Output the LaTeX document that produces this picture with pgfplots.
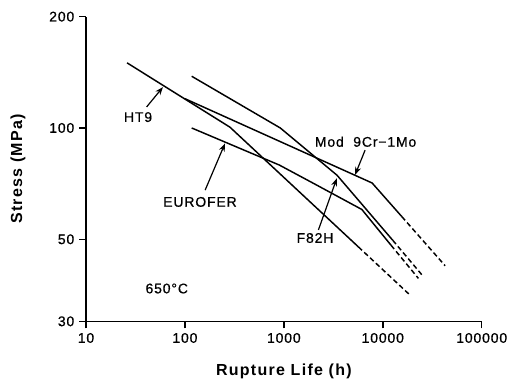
\documentclass[border=0pt]{standalone}
\usepackage{fontspec}
\setmainfont[LetterSpace=8]{Liberation Sans}
\newfontfamily\medfont[LetterSpace=6,FakeBold=0.6]{Liberation Sans}
\usepackage{pgfplots}
\pgfplotsset{compat=1.18}
\usetikzlibrary{arrows.meta}

\begin{document}
\begin{tikzpicture}
\path[use as bounding box] (-64.5pt,-44pt) rectangle (319.5pt,241pt);
\begin{axis}[
  xmode=log, ymode=log,
  scale only axis, width=296.8pt, height=228.5pt,
  xmin=10, xmax=100000, ymin=30, ymax=200,
  axis x line*=bottom, axis y line*=left,
  axis line style={line width=1.1pt},
  xtick={10,100,1000,10000,100000}, xticklabels={10,100,1000,10000,100000},
  ytick={30,50,100,200}, yticklabels={30,50,100,200},
  xminorticks=false, yminorticks=false,
  tick align=outside, major tick length=5.25pt,
  tick style={line width=1.1pt, black},
  ticklabel style={font=\medfont\fontsize{10.5}{12}\selectfont},
  xlabel={Rupture Life (h)}, ylabel={Stress (MPa)},
  label style={font=\fontsize{12}{14}\selectfont\bfseries},
  xlabel style={at={(axis description cs:0.5,-0.165)}, anchor=center},
  ylabel style={at={(axis description cs:-0.172,0.5)}, anchor=center},
  clip=false,
]
% HT9
\addplot[black, line width=1.1pt] coordinates {(26,150) (285,100.5) (5660,47.7)};
\addplot[black, line width=1.1pt, dash pattern=on 3.75pt off 2.25pt] coordinates {(5660,47.7) (18900,35.3)};
% Mod 9Cr-1Mo
\addplot[black, line width=1.1pt] coordinates {(100,120) (7800,71) (15560,57.6)};
\addplot[black, line width=1.1pt, dash pattern=on 3.75pt off 2.25pt] coordinates {(15560,57.6) (42700,42.4)};
% F82H
\addplot[black, line width=1.1pt] coordinates {(117,138) (920,100) (3450,74.5) (12600,49.7)};
\addplot[black, line width=1.1pt, dash pattern=on 3.75pt off 2.25pt] coordinates {(12600,49.7) (25800,39.6)};
% EUROFER
\addplot[black, line width=1.1pt] coordinates {(117,100) (900,79.4) (2000,70.8) (6140,60.2) (12100,48.2)};
\addplot[black, line width=1.1pt, dash pattern=on 3.75pt off 2.25pt] coordinates {(12100,48.2) (22900,39.2)};

\begin{scope}[every node/.style={font=\medfont\fontsize{10.5}{12}\selectfont}]
\node at (axis cs:33.6,107) {HT9};
\node at (axis cs:142,63.1) {EUROFER};
\node at (axis cs:6700,91.8) {Mod\ \ 9Cr−1Mo};
\node at (axis cs:2065,50.4) {F82H};
\node at (axis cs:65.5,36.8) {650°C};
\end{scope}
\begin{scope}[line width=0.9pt, -{Stealth[length=6pt,width=4.5pt]}]
\draw (axis cs:41,114) -- (axis cs:60,129);
\draw (axis cs:160,67.9) -- (axis cs:254,90.8);
\draw (axis cs:6620,87.1) -- (axis cs:5250,74.7);
\draw (axis cs:2235,53) -- (axis cs:3430,73.1);
\end{scope}
\end{axis}
\end{tikzpicture}
\end{document}
